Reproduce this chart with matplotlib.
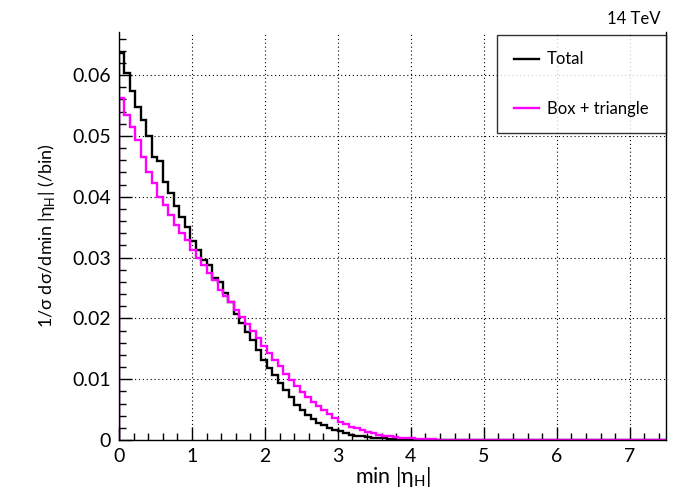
import matplotlib
matplotlib.use("Agg")
import matplotlib.pyplot as plt
import numpy as np

plt.rcParams['font.family'] = ['Lato', 'Noto Sans', 'DejaVu Sans']
plt.rcParams['mathtext.fontset'] = 'custom'
plt.rcParams['mathtext.rm'] = 'Lato'

# min|eta_H| histograms, 100 bins from 0 to 7.5, normalised per bin
bin_lo = 0.0
bin_hi = 7.5
n_bins = 100

total = [0.0636, 0.0603, 0.0574, 0.0547, 0.0527, 0.0500, 0.0466, 0.0458, 0.0425, 0.0406,
         0.0384, 0.0367, 0.0350, 0.0328, 0.0313, 0.0296, 0.0288, 0.0266, 0.0260, 0.0241,
         0.0227, 0.0208, 0.0192, 0.0178, 0.0164, 0.0148, 0.0132, 0.0118, 0.0107, 0.0093,
         0.0082, 0.0071, 0.0058, 0.0049, 0.0041, 0.0034, 0.0028, 0.0024, 0.0020, 0.0017,
         0.0014, 0.0011, 0.0009, 0.0007, 0.0006, 0.0005, 0.0004, 0.0003, 0.00025, 0.0002,
         0.00015, 0.00012, 0.0001, 0.00008, 0.00006, 0.00005, 0.00004, 0.00003, 0.00002, 0.00001] + [0.0] * 40

box_triangle = [0.0562, 0.0535, 0.0515, 0.0493, 0.0466, 0.0440, 0.0423, 0.0400, 0.0387, 0.0370,
                0.0354, 0.0340, 0.0329, 0.0313, 0.0299, 0.0288, 0.0274, 0.0263, 0.0247, 0.0236,
                0.0227, 0.0214, 0.0203, 0.0190, 0.0179, 0.0167, 0.0155, 0.0143, 0.0132, 0.0121,
                0.0109, 0.0098, 0.0088, 0.0079, 0.0071, 0.0063, 0.0056, 0.0049, 0.0042, 0.0036,
                0.0030, 0.0026, 0.0022, 0.0019, 0.0016, 0.0013, 0.0011, 0.0009, 0.0007, 0.0006,
                0.0005, 0.0004, 0.0003, 0.00025, 0.0002, 0.00016, 0.00013, 0.0001, 0.00008, 0.00006,
                0.00005, 0.00004, 0.00003, 0.00002, 0.00002, 0.00001] + [0.0] * 34

edges = np.linspace(bin_lo, bin_hi, n_bins + 1)

fig = plt.figure(figsize=(6.84, 4.97), dpi=100)
ax = fig.add_axes([0.174, 0.1147, 0.800, 0.821])

ax.stairs(total, edges, color='black', linewidth=1.7, label='Total')
ax.stairs(box_triangle, edges, color='#ff00ff', linewidth=1.7, label='Box + triangle')

ax.set_xlim(0, 7.5)
ax.set_ylim(0, 0.0671)
ax.set_xticks(np.arange(0, 8, 1))
ax.set_xticks(np.arange(0, 7.6, 0.2), minor=True)
ax.set_yticks(np.arange(0, 0.061, 0.01))
ax.set_yticks(np.arange(0, 0.067, 0.002), minor=True)
ax.yaxis.set_major_formatter(plt.FuncFormatter(lambda v, p: "0" if abs(v) < 1e-9 else f"{v:.2f}"))

ax.tick_params(which='major', direction='in', length=9.5, width=1.0, labelsize=14, pad=6)
ax.tick_params(which='minor', direction='in', length=5, width=1.0)
ax.tick_params(top=False, right=False, which='both')
ax.spines['top'].set_visible(False)
for s in ['left', 'bottom', 'right']:
    ax.spines[s].set_linewidth(1.0)

ax.grid(which='major', linestyle=(0, (1, 2.5)), color='black', linewidth=0.8)
ax.set_axisbelow(True)

ax.set_xlabel(r"min |η$_{\mathregular{H}}$|", fontsize=15.5, labelpad=0)
ax.set_ylabel(r"1/σ dσ/dmin |η$_{\mathregular{H}}$| (/bin)", fontsize=13, labelpad=11)

leg = ax.legend(loc='upper left', bbox_to_anchor=(0.691, 0.993, 0.309, 0.0), mode='expand',
                fontsize=12, frameon=True, fancybox=False, edgecolor='black',
                borderpad=1.0, labelspacing=2.0, handlelength=1.5, handletextpad=0.5,
                borderaxespad=0.0)
leg.get_frame().set_linewidth(1.0)

fig.text(0.966, 0.945, "14 TeV", ha='right', va='bottom', fontsize=12)

fig.savefig("out.png", dpi=100)
